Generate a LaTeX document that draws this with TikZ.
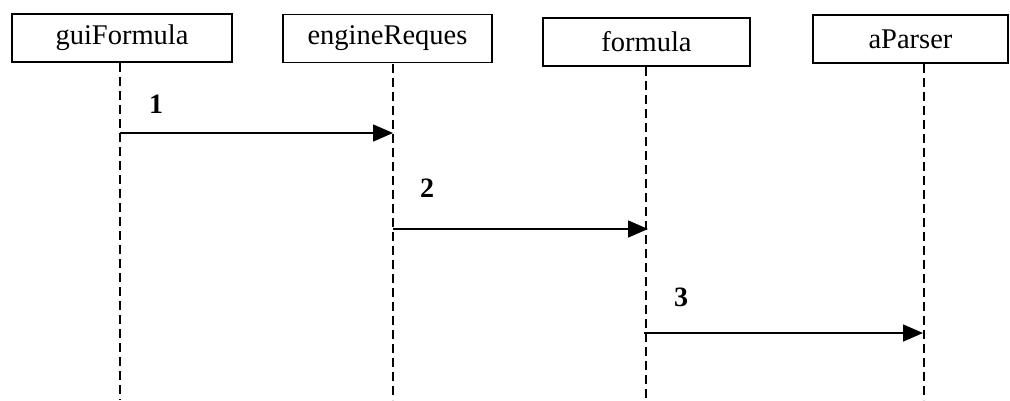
\documentclass[tikz,border=0pt]{standalone}
\usepackage{fontspec}
\setmainfont{Liberation Serif}
\usetikzlibrary{arrows.meta}
\begin{document}
\begin{tikzpicture}[x=1pt,y=-1pt,
  objbox/.style={draw,line width=1.8pt,inner sep=0pt,minimum height=48pt,
    font=\fontsize{28.5}{32}\selectfont},
  life/.style={line width=2.2pt,dash pattern=on 9pt off 5pt},
  msg/.style={line width=1.6pt,-{Triangle[length=20pt,width=17pt]}},
  num/.style={font=\bfseries\fontsize{28}{32}\selectfont,inner sep=0pt}]
\useasboundingbox (0,0) rectangle (1010,400);
\node[objbox,minimum width=220pt] (gui) at (122,38) {guiFormula};
\node[objbox,minimum width=209pt] (eng) at (387.5,38.5) {engineReques};
\node[objbox,minimum width=207pt] (frm) at (646.5,42) {formula};
\node[objbox,minimum width=195pt] (apr) at (910.5,39) {aParser};
% lifeline ends
\coordinate (guiT) at (120,63);
\coordinate (engT) at (393,64);
\coordinate (frmT) at (646,67);
\coordinate (aprT) at (924,64);
\coordinate (guiB) at (120,400);
\coordinate (engB) at (393,400);
\coordinate (frmB) at (646,400);
\coordinate (aprB) at (924,400);
\draw[life] (guiT) -- (guiB);
\draw[life] (engT) -- (engB);
\draw[life] (frmT) -- (frmB);
\draw[life] (aprT) -- (aprB);
% message points
\coordinate (m1s) at (120,133);
\coordinate (m1e) at (393,133);
\coordinate (m2s) at (393,229);
\coordinate (m2e) at (648,229);
\coordinate (m3s) at (644,333);
\coordinate (m3e) at (923,333);
\draw[msg] (m1s) -- (m1e);
\draw[msg] (m2s) -- (m2e);
\draw[msg] (m3s) -- (m3e);
\node[num] (n1) at (156,104) {1};
\node[num] (n2) at (427,188) {2};
\node[num] (n3) at (681,297) {3};
\end{tikzpicture}
\end{document}
